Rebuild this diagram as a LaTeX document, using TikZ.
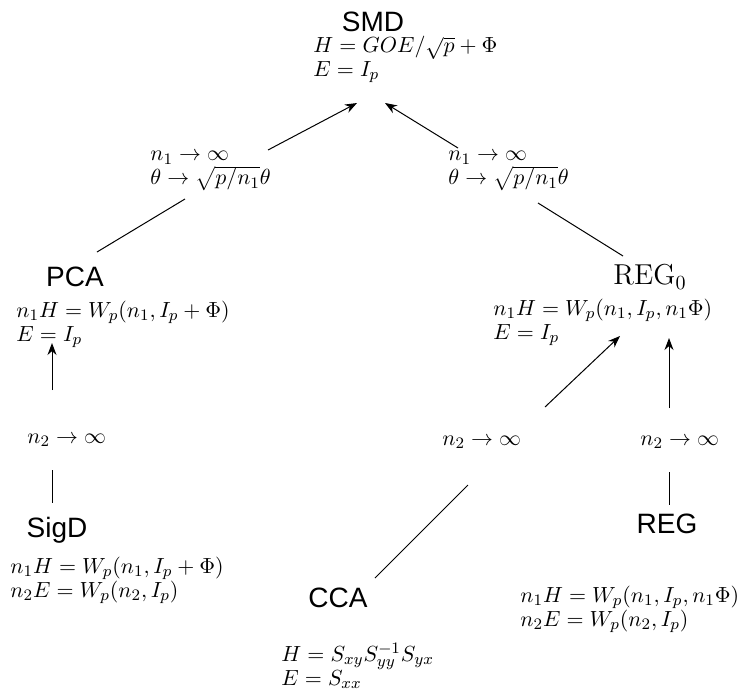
\documentclass[tikz,border=0pt]{standalone}
\usepackage{fontspec}
\newfontfamily\hv{Liberation Sans}
\usetikzlibrary{arrows.meta}
\begin{document}
\begin{tikzpicture}[x=0.5pt,y=-0.5pt,
  title/.style={font=\hv\fontsize{14}{16}\selectfont, inner sep=0pt},
  formula/.style={align=left, anchor=west, inner sep=0pt, font=\fontsize{10.8}{12}\selectfont},
  conn/.style={line width=0.5pt},
  arr/.style={conn, -{Stealth[length=6pt,width=4.5pt]}}]
\useasboundingbox (0,0) rectangle (739,691);
% titles
\node[title] (smd) at (373,22) {SMD};
\node[title] (pca) at (75,277) {PCA};
\node[inner sep=0pt, font=\fontsize{14.4}{16}\selectfont] (reg0) at (650,277) {$\mathrm{REG}_0$};
\node[title] (sigd) at (57,530) {SigD};
\node[title] (cca) at (338,598) {CCA};
\node[title] (reg) at (667,524) {REG};
% formulas
\node[formula] (smdf) at (313,59) {$H=GOE/\sqrt{p}+\Phi$\\$E=I_p$};
\node[formula] (pcaf) at (16,324) {$n_1H=W_p(n_1,I_p+\Phi)$\\$E=I_p$};
\node[formula] (reg0f) at (493,322) {$n_1H=W_p(n_1,I_p,n_1\Phi)$\\$E=I_p$};
\node[formula] (sigdf) at (10,580) {$n_1H=W_p(n_1,I_p+\Phi)$\\$n_2E=W_p(n_2,I_p)$};
\node[formula] (ccaf) at (281,666) {$H=S_{xy}S_{yy}^{-1}S_{yx}$\\$E=S_{xx}$};
\node[formula] (regf) at (520,609) {$n_1H=W_p(n_1,I_p,n_1\Phi)$\\$n_2E=W_p(n_2,I_p)$};
% limit labels
\node[formula] (lim1) at (150,171) {$n_1\to\infty$\\$\theta\to\sqrt{p/n_1}\theta$};
\node[formula] (lim2) at (448,171) {$n_1\to\infty$\\$\theta\to\sqrt{p/n_1}\theta$};
\node[formula] (n2a) at (27,440) {$n_2\to\infty$};
\node[formula] (n2b) at (442,442) {$n_2\to\infty$};
\node[formula] (n2c) at (640,442) {$n_2\to\infty$};
% connector end points
\coordinate (l1t) at (268,150); \coordinate (l1h) at (357,103);
\coordinate (l1a) at (97,252);  \coordinate (l1b) at (185,199);
\coordinate (l2t) at (458,148); \coordinate (l2h) at (385,103);
\coordinate (l2a) at (538,203); \coordinate (l2b) at (623,256);
\coordinate (pat) at (52,390);  \coordinate (pah) at (52,343);
\coordinate (pla) at (52,470);  \coordinate (plb) at (52,503);
\coordinate (cla) at (375,578); \coordinate (clb) at (468,485);
\coordinate (mat) at (545,407); \coordinate (mah) at (620,336);
\coordinate (rat) at (669,408); \coordinate (rah) at (669,338);
\coordinate (rla) at (669,472); \coordinate (rlb) at (669,505);
% connectors
\draw[arr] (l1t) -- (l1h);
\draw[conn] (l1a) -- (l1b);
\draw[arr] (l2t) -- (l2h);
\draw[conn] (l2a) -- (l2b);
\draw[arr] (pat) -- (pah);
\draw[conn] (pla) -- (plb);
\draw[conn] (cla) -- (clb);
\draw[arr] (mat) -- (mah);
\draw[arr] (rat) -- (rah);
\draw[conn] (rla) -- (rlb);
\end{tikzpicture}
\end{document}
